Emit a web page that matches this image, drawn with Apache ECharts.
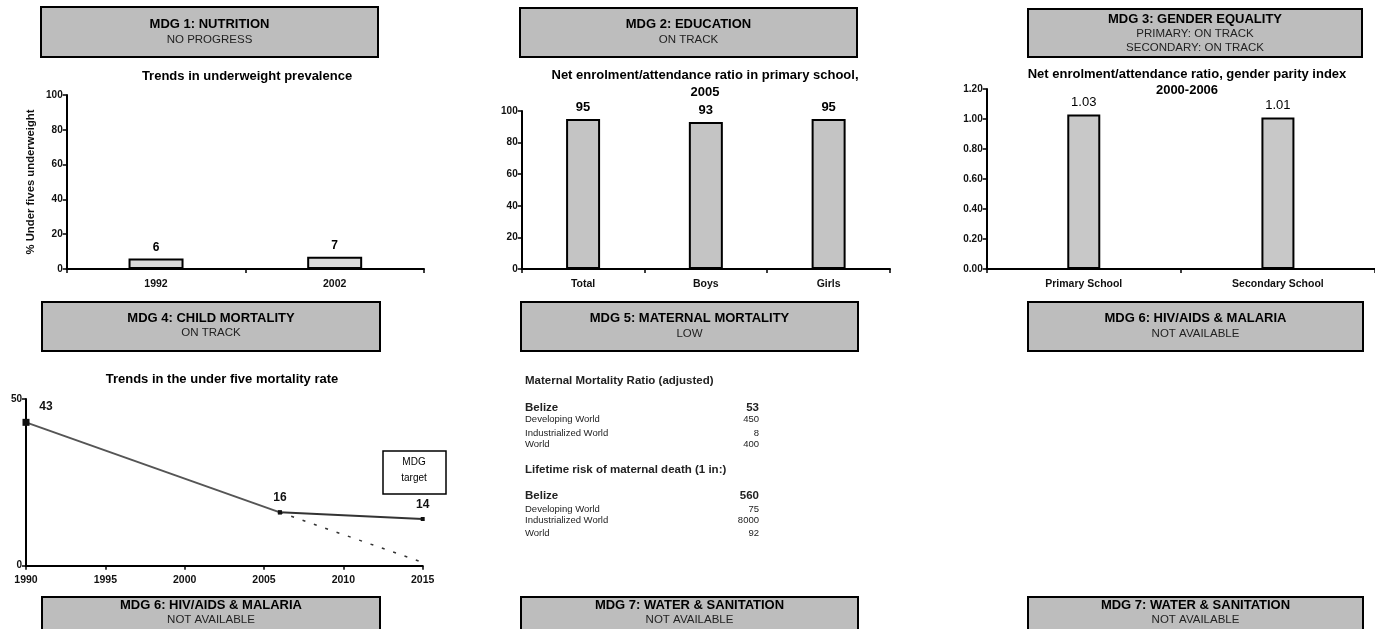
<!DOCTYPE html>
<html>
<head>
<meta charset="utf-8">
<title>Belize MDG summary</title>
<script src="https://cdn.jsdelivr.net/npm/echarts@6/dist/echarts.min.js"></script>
<style>
  html, body { margin: 0; padding: 0; background: #fff; }
  #chart { width: 1375px; height: 629px; }
</style>
</head>
<body>
<div id="chart"></div>
<script>
// ---- data ----
const nutritionYears = ['1992', '2002'];
const underweight = [6, 7];

const eduCategories = ['Total', 'Boys', 'Girls'];
const netEnrolment = [95, 93, 95];

const gpiCategories = ['Primary School', 'Secondary School'];
const genderParity = [1.03, 1.01];

const u5mrObserved = [[1990, 43], [2006, 16]];
const u5mrTarget = [[2006, 16], [2015, 14]];
const u5mrTrend = [[2006, 16], [2015, 1]];

const mmrRows = [
  ['Belize', '53'],
  ['Developing World', '450'],
  ['Industrialized World', '8'],
  ['World', '400']
];
const riskRows = [
  ['Belize', '560'],
  ['Developing World', '75'],
  ['Industrialized World', '8000'],
  ['World', '92']
];

const headerTitles = [
  'MDG 1: NUTRITION', 'MDG 2: EDUCATION', 'MDG 3: GENDER EQUALITY',
  'MDG 4: CHILD MORTALITY', 'MDG 5: MATERNAL MORTALITY', 'MDG 6: HIV/AIDS & MALARIA',
  'MDG 6: HIV/AIDS & MALARIA', 'MDG 7: WATER & SANITATION', 'MDG 7: WATER & SANITATION'
];
const headerStatus = [
  ['NO PROGRESS'], ['ON TRACK'], ['PRIMARY: ON TRACK', 'SECONDARY: ON TRACK'],
  ['ON TRACK'], ['LOW'], ['NOT AVAILABLE'],
  ['NOT AVAILABLE'], ['NOT AVAILABLE'], ['NOT AVAILABLE']
];

// ---- layout ----
const FONT = '"Liberation Sans", Arial, sans-serif';
const headerBoxes = [
  { x: 41, y: 7, w: 337, h: 50, lines: [17, 33] },
  { x: 520, y: 8, w: 337, h: 49, lines: [16, 32] },
  { x: 1028, y: 9, w: 334, h: 48, lines: [10, 24.5, 38.5] },
  { x: 42, y: 302, w: 338, h: 49, lines: [16, 31] },
  { x: 521, y: 302, w: 337, h: 49, lines: [16, 32] },
  { x: 1028, y: 302, w: 335, h: 49, lines: [16, 32] },
  { x: 42, y: 597, w: 338, h: 50, lines: [8, 23] },
  { x: 521, y: 597, w: 337, h: 50, lines: [8, 23] },
  { x: 1028, y: 597, w: 335, h: 50, lines: [8, 23] }
];

const graphics = [];

headerBoxes.forEach(function (b, i) {
  graphics.push({
    type: 'rect',
    shape: { x: b.x, y: b.y, width: b.w, height: b.h },
    style: { fill: '#bdbdbd', stroke: '#000', lineWidth: 2 },
    z: 1
  });
  const texts = [headerTitles[i]].concat(headerStatus[i]);
  texts.forEach(function (t, k) {
    graphics.push({
      type: 'text',
      x: b.x + b.w / 2,
      y: b.y + b.lines[k],
      style: {
        text: t,
        align: 'center',
        verticalAlign: 'middle',
        fontFamily: FONT,
        fontSize: k === 0 ? 13 : 11.5,
        fontWeight: k === 0 ? 'bold' : 'normal',
        fill: k === 0 ? '#000' : '#222'
      },
      z: 2
    });
  });
});

function addText(text, x, y, opts) {
  graphics.push({
    type: 'text',
    x: x,
    y: y,
    style: Object.assign({
      text: text,
      align: 'center',
      verticalAlign: 'middle',
      fontFamily: FONT,
      fontSize: 13,
      fontWeight: 'bold',
      fill: '#000'
    }, opts || {}),
    z: 5
  });
}

// chart headings
addText('Trends in underweight prevalence', 247, 76);
addText('Net enrolment/attendance ratio in primary school,', 705, 75);
addText('2005', 705, 92);
addText('Net enrolment/attendance ratio, gender parity index', 1187, 74);
addText('2000-2006', 1187, 90);
addText('Trends in the under five mortality rate', 222, 379);

// maternal mortality table
function addTable(heading, rows, top, offsets) {
  addText(heading, 525, top, { align: 'left', fontSize: 11.5, fill: '#222' });
  rows.forEach(function (r, i) {
    const main = i === 0;
    const style = {
      fontSize: main ? 11.5 : 9.5, fontWeight: main ? 'bold' : 'normal', fill: '#222'
    };
    addText(r[0], 525, top + offsets[i], Object.assign({ align: 'left' }, style));
    addText(r[1], 759, top + offsets[i], Object.assign({ align: 'right' }, style));
  });
}
addTable('Maternal Mortality Ratio (adjusted)', mmrRows, 381, [27, 38.5, 52, 63]);
addTable('Lifetime risk of maternal death (1 in:)', riskRows, 470, [25.5, 39, 50, 63]);

// key box for the mortality chart
graphics.push({
  type: 'rect',
  shape: { x: 383, y: 451, width: 63, height: 43 },
  style: { fill: '#fff', stroke: '#000', lineWidth: 1.5 },
  z: 3
});
addText('MDG', 414, 462, { fontSize: 10, fontWeight: 'normal' });
addText('target', 414, 478, { fontSize: 10, fontWeight: 'normal' });

// ---- shared axis styles ----
const axisLine = { show: true, lineStyle: { color: '#000', width: 2 } };
const axisTick = { show: true, length: 4, lineStyle: { color: '#000', width: 1.5 } };
const axisLabel = { fontFamily: FONT, fontSize: 10.5, fontWeight: 'bold', color: '#111' };
const valueLabel = { fontFamily: FONT, fontSize: 10, fontWeight: 'bold', color: '#111' };

const barStyle = function (fill) {
  return { color: fill, borderColor: '#000', borderWidth: 2 };
};

const option = {
  animation: false,
  backgroundColor: '#fff',
  graphic: graphics,
  grid: [
    { left: 66.7, top: 95, width: 357.3, height: 174 },
    { left: 521.7, top: 111, width: 368.3, height: 158 },
    { left: 986.7, top: 89, width: 400, height: 180 },
    { left: 26, top: 399, width: 396.7, height: 166.7 }
  ],
  xAxis: [
    { gridIndex: 0, type: 'category', data: nutritionYears, axisLine: axisLine, axisTick: axisTick,
      axisLabel: Object.assign({ margin: 10 }, axisLabel) },
    { gridIndex: 1, type: 'category', data: eduCategories, axisLine: axisLine, axisTick: axisTick,
      axisLabel: Object.assign({ margin: 10 }, axisLabel) },
    { gridIndex: 2, type: 'category', data: gpiCategories, axisLine: axisLine, axisTick: axisTick,
      axisLabel: Object.assign({ margin: 10 }, axisLabel) },
    { gridIndex: 3, type: 'value', min: 1990, max: 2015, interval: 5, splitLine: { show: false },
      axisLine: axisLine, axisTick: axisTick,
      axisLabel: Object.assign({ margin: 9, formatter: function (v) { return String(v); } }, axisLabel) }
  ],
  yAxis: [
    { gridIndex: 0, type: 'value', min: 0, max: 100, interval: 20, splitLine: { show: false },
      axisLine: axisLine, axisTick: axisTick, axisLabel: Object.assign({ margin: 4 }, valueLabel),
      name: '% Under fives underweight', nameLocation: 'middle', nameRotate: 90, nameGap: 30,
      nameTextStyle: { fontFamily: FONT, fontSize: 11.3, fontWeight: 'bold', color: '#111' } },
    { gridIndex: 1, type: 'value', min: 0, max: 100, interval: 20, splitLine: { show: false },
      axisLine: axisLine, axisTick: axisTick, axisLabel: Object.assign({ margin: 4 }, valueLabel) },
    { gridIndex: 2, type: 'value', min: 0, max: 1.2, interval: 0.2, splitLine: { show: false },
      axisLine: axisLine, axisTick: axisTick,
      axisLabel: Object.assign({ margin: 4, formatter: function (v) { return v.toFixed(2); } }, valueLabel) },
    { gridIndex: 3, type: 'value', min: 0, max: 50, interval: 50, splitLine: { show: false },
      axisLine: axisLine, axisTick: axisTick, axisLabel: Object.assign({ margin: 4 }, valueLabel) }
  ],
  series: [
    { type: 'bar', xAxisIndex: 0, yAxisIndex: 0, data: underweight, barWidth: 55,
      itemStyle: barStyle('#dadada'),
      label: { show: true, position: 'top', distance: 5, fontFamily: FONT, fontSize: 12, fontWeight: 'bold', color: '#000' } },
    { type: 'bar', xAxisIndex: 1, yAxisIndex: 1, data: netEnrolment, barWidth: 34,
      itemStyle: barStyle('#c4c4c4'),
      label: { show: true, position: 'top', distance: 5, fontFamily: FONT, fontSize: 13, fontWeight: 'bold', color: '#000' } },
    { type: 'bar', xAxisIndex: 2, yAxisIndex: 2, data: genderParity, barWidth: 33,
      itemStyle: barStyle('#c8c8c8'),
      label: { show: true, position: 'top', distance: 6, fontFamily: FONT, fontSize: 13, color: '#000',
        formatter: function (p) { return p.value.toFixed(2); } } },
    { type: 'line', name: 'Under five mortality rate', xAxisIndex: 3, yAxisIndex: 3,
      data: u5mrObserved.map(function (d, i) {
        return {
          value: d,
          symbolSize: i === 0 ? 7 : 4,
          label: i === 0 ? { offset: [20, -1] } : { offset: [0, -2] }
        };
      }),
      symbol: 'rect', itemStyle: { color: '#111' },
      lineStyle: { color: '#555', width: 2 },
      label: { show: true, position: 'top', fontFamily: FONT, fontSize: 12, fontWeight: 'bold', color: '#111',
        formatter: function (p) { return p.value[1]; } } },
    { type: 'line', name: 'MDG target', xAxisIndex: 3, yAxisIndex: 3, data: u5mrTarget,
      symbol: 'rect', symbolSize: 4, itemStyle: { color: '#111' },
      lineStyle: { color: '#333', width: 2 },
      label: { show: true, position: 'top', distance: 6, fontFamily: FONT, fontSize: 12, fontWeight: 'bold', color: '#111',
        formatter: function (p) { return p.dataIndex === 0 ? '' : p.value[1]; } } },
    { type: 'line', name: 'Current trend', xAxisIndex: 3, yAxisIndex: 3, data: u5mrTrend,
      showSymbol: false, lineStyle: { color: '#333', width: 1.5, type: [3, 9] } }
  ]
};

const chart = echarts.init(document.getElementById('chart'), null, { renderer: 'canvas' });
chart.setOption(option);
</script>
</body>
</html>
